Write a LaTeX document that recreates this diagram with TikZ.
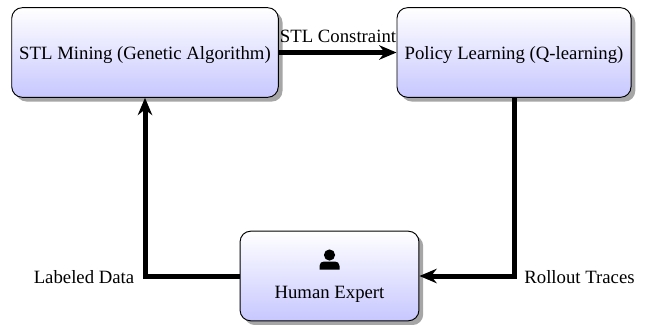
\documentclass[tikz,border=0pt]{standalone}
\usepackage{fontspec}
\setmainfont{Liberation Serif}
\usetikzlibrary{positioning,shadows,arrows.meta}

\tikzstyle{s} = [rectangle, rounded corners=5.5pt, draw=black, line width=0.5pt, top color=white, bottom color=blue!22, drop shadow={shadow xshift=2.2pt, shadow yshift=-2.2pt, fill=black!35, opacity=1}, text centered, text depth=0pt]
\tikzstyle{link} = [line width=2.6pt, -{Stealth[length=9pt, width=7.5pt]}]
\tikzstyle{t} = [font=\fontsize{9.75}{12}\selectfont]

\begin{document}
\begin{tikzpicture}[x=0.52pt,y=-0.52pt]
\useasboundingbox (0,0) rectangle (648,324);

\node[s, t, minimum width=138.6pt, minimum height=46.6pt] (Mining) at (145,52.5) {STL Mining (Genetic Algorithm)};
\node[s, t, minimum width=121.7pt, minimum height=46.6pt] (Policy) at (514,52.5) {Policy Learning (Q-learning)};
\node[s, t, minimum width=93pt, minimum height=46.6pt] (Expert) at (329.5,276) {};

\node[t] (ExpertText) at (329.5,294.5) {Human Expert};
\node[t] (ConstraintText) at (338,36) {STL Constraint};
\node[t] (LabeledText) at (84,277) {Labeled Data};
\node[t] (RolloutText) at (579.5,277) {Rollout Traces};

% person icon
\fill (329.5,255) circle [radius=5.6];
\fill (319.5,269.5) -- (319.5,266) .. controls (319.5,263) and (321.5,261.5) .. (324,261.5) -- (335,261.5) .. controls (337.5,261.5) and (339.5,263) .. (339.5,266) -- (339.5,269.5) -- cycle;

\draw[link] (Mining) -- (Policy);
\draw[link] (Policy) |- (Expert);
\draw[link] (Expert) -| (Mining);

\end{tikzpicture}
\end{document}
